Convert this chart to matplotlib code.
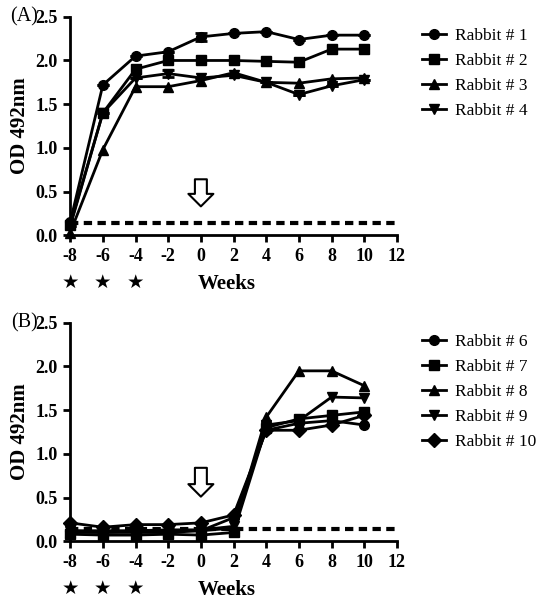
import matplotlib
matplotlib.use("Agg")
import matplotlib.pyplot as plt

weeks = [-8, -6, -4, -2, 0, 2, 4, 6, 8, 10]
immunization_weeks = [-8, -6, -4]
cutoff = 0.14

# panel A
labels_a = ["Rabbit # 1", "Rabbit # 2", "Rabbit # 3", "Rabbit # 4"]
rabbit_1 = [0.15, 1.72, 2.05, 2.10, 2.27, 2.31, 2.33, 2.24, 2.29, 2.29]
rabbit_2 = [0.12, 1.40, 1.90, 2.00, 2.00, 2.00, 1.99, 1.98, 2.13, 2.13]
rabbit_3 = [0.03, 0.98, 1.70, 1.70, 1.77, 1.86, 1.75, 1.74, 1.79, 1.80]
rabbit_4 = [0.10, 1.40, 1.80, 1.85, 1.80, 1.83, 1.75, 1.61, 1.71, 1.78]
err_1 = [0, 0, 0, 0, 0.05, 0, 0, 0, 0, 0]
err_4 = [0, 0, 0, 0.04, 0, 0, 0, 0, 0, 0]
arrow_a = (0.64, 0.33)

# panel B
labels_b = ["Rabbit # 6", "Rabbit # 7", "Rabbit # 8", "Rabbit # 9", "Rabbit # 10"]
rabbit_6 = [0.12, 0.10, 0.10, 0.10, 0.12, 0.27, 1.27, 1.35, 1.38, 1.33]
rabbit_7 = [0.08, 0.07, 0.07, 0.08, 0.07, 0.10, 1.30, 1.40, 1.44, 1.48]
rabbit_8 = [0.10, 0.10, 0.12, 0.12, 0.12, 0.15, 1.42, 1.95, 1.95, 1.78]
rabbit_9 = [0.12, 0.12, 0.12, 0.13, 0.13, 0.17, 1.33, 1.38, 1.65, 1.64]
rabbit_10 = [0.21, 0.16, 0.19, 0.19, 0.21, 0.30, 1.27, 1.27, 1.33, 1.44]
arrow_b = (0.84, 0.51)

plt.rcParams["font.family"] = ["Liberation Serif", "DejaVu Serif"]
plt.rcParams["axes.unicode_minus"] = False


def draw_panel(ax, series, labels, markers, errs, arrow, tag):
    for i, vals in enumerate(series):
        if errs[i] is not None:
            ax.errorbar(weeks, vals, yerr=errs[i], fmt="none", ecolor="black",
                        capsize=4, capthick=2, elinewidth=2, zorder=3)
        ax.plot(weeks, vals, color="black", lw=2, marker=markers[i], ms=7,
                label=labels[i], clip_on=False, zorder=3)
    ax.plot([-8, 12], [cutoff, cutoff], color="black", lw=3,
            ls=(0, (2, 1.3)), zorder=2)
    ax.annotate("", xy=(0, arrow[1]), xytext=(0, arrow[0]),
                arrowprops=dict(arrowstyle="simple,head_width=0.9,"
                                "head_length=0.45,tail_width=0.43",
                                fc="white", ec="black", lw=1.5,
                                mutation_scale=20, shrinkA=0, shrinkB=0))
    ax.set_xlim(-8, 12)
    ax.set_ylim(0, 2.5)
    ax.set_xticks(range(-8, 13, 2))
    ax.set_yticks([0, 0.5, 1.0, 1.5, 2.0, 2.5])
    ax.set_yticklabels(["0.0", "0.5", "1.0", "1.5", "2.0", "2.5"])
    for s in ["top", "right"]:
        ax.spines[s].set_visible(False)
    for s in ["left", "bottom"]:
        ax.spines[s].set_linewidth(2)
    ax.tick_params(width=2, length=5, labelsize=13, pad=4)
    for t in ax.get_xticklabels() + ax.get_yticklabels():
        t.set_fontweight("bold")
    ax.set_ylabel("OD 492nm", fontsize=15, fontweight="bold", labelpad=4)
    ax.set_xlabel("Weeks", fontsize=15, fontweight="bold")
    ax.xaxis.label.set_va("center")
    ax.xaxis.set_label_coords(0.48, -0.225)
    for w in immunization_weeks:
        ax.text(w, -0.54, "★", ha="center", va="center", fontsize=14,
                family=["DejaVu Sans"])
    ax.text(-0.1, 1.0, tag, transform=ax.transAxes, ha="right",
            va="center", fontsize=14.5)
    ax.legend(loc="upper left", bbox_to_anchor=(1.055, 0.98), frameon=False,
              fontsize=12.5, handlelength=1.4, labelspacing=0.5,
              handletextpad=0.5, borderaxespad=0)


def main():
    fig = plt.figure(figsize=(5.4, 6), dpi=100)
    ax_a = fig.add_axes([0.130, 0.608, 0.605, 0.364])
    ax_b = fig.add_axes([0.130, 0.098, 0.605, 0.364])
    draw_panel(ax_a, [rabbit_1, rabbit_2, rabbit_3, rabbit_4], labels_a,
               ["o", "s", "^", "v"], [err_1, None, None, err_4],
               arrow_a, "(A)")
    draw_panel(ax_b, [rabbit_6, rabbit_7, rabbit_8, rabbit_9, rabbit_10],
               labels_b, ["o", "s", "^", "v", "D"], [None] * 5,
               arrow_b, "(B)")
    fig.savefig("out.png", dpi=100)


if __name__ == "__main__":
    main()
